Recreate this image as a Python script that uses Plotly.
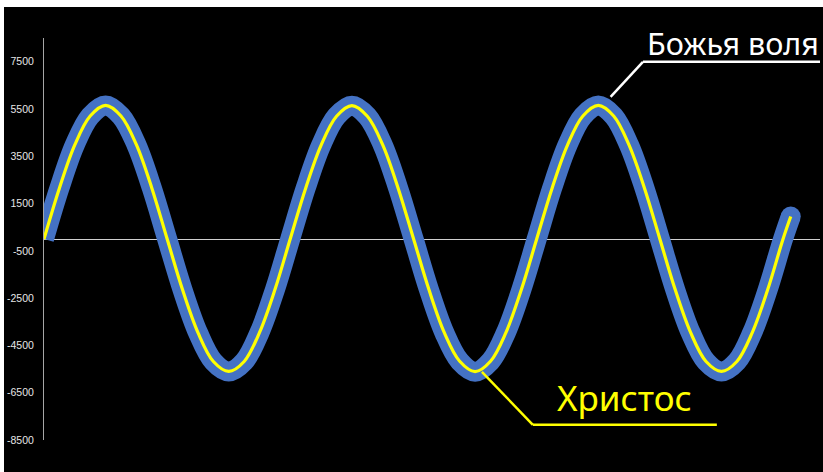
import plotly.graph_objects as go

# Sample positions (1/16 of a wave period per step) and values
x_vals = [0, 1, 2, 3, 4, 5, 6, 7, 8, 9, 10, 11, 12, 13, 14, 15,
          16, 17, 18, 19, 20, 21, 22, 23, 24, 25, 26, 27, 28, 29, 30, 31,
          32, 33, 34, 35, 36, 37, 38, 39, 40, 41, 42, 43, 44, 45, 46, 47,
          48, 48.5]
will_vals = [0, 2150, 3980, 5200, 5650, 5200, 3990, 2160,
             0, -2150, -3960, -5180, -5600, -5180, -3950, -2140,
             20, 2160, 3970, 5190, 5640, 5190, 3980, 2150,
             10, -2140, -3960, -5170, -5610, -5170, -3960, -2150,
             0, 2150, 3970, 5200, 5650, 5200, 3970, 2150,
             0, -2150, -3960, -5180, -5600, -5180, -3960, -2150,
             0, 950]
christ_vals = list(will_vals)

y_ticks = [-8500, -6500, -4500, -2500, -500, 1500, 3500, 5500, 7500]
y_range = [-8500, 8500]
x_range = [0, 50.4]

label_will = "Божья воля"
label_christ = "Христос"

BLUE = "#4472C4"
YELLOW = "#FFFF00"

W, H = 823, 472
ML, MR, MT, MB = 44, 3, 38, 32
pw, ph = W - ML - MR, H - MT - MB


def px_x(px):
    return (px - ML) / pw


def px_y(py):
    return (H - MB - py) / ph


fig = go.Figure()
fig.add_trace(go.Scatter(x=x_vals, y=will_vals, mode="lines",
                         line=dict(color=BLUE, width=20, shape="spline"),
                         hoverinfo="skip", showlegend=False))
fig.add_trace(go.Scatter(x=x_vals[-1:], y=will_vals[-1:], mode="markers",
                         marker=dict(color=BLUE, size=20, line=dict(width=0)),
                         hoverinfo="skip", showlegend=False))
fig.add_trace(go.Scatter(x=x_vals, y=christ_vals, mode="lines",
                         line=dict(color=YELLOW, width=3.2, shape="spline"),
                         hoverinfo="skip", showlegend=False))

shapes = [
    # white leader for "Божья воля"
    dict(type="line", xref="x", yref="y", x0=36.8, y0=6013, x1=38.9, y1=7493,
         line=dict(color="white", width=2.5)),
    dict(type="line", xref="x", yref="y", x0=38.9, y0=7493, x1=50.4, y1=7493,
         line=dict(color="white", width=2.5)),
    # yellow leader for "Христос"
    dict(type="line", xref="x", yref="y", x0=28.44, y0=-5615, x1=31.75, y1=-7856,
         line=dict(color=YELLOW, width=2.5)),
    dict(type="line", xref="x", yref="y", x0=31.75, y0=-7856, x1=43.7, y1=-7856,
         line=dict(color=YELLOW, width=2.5)),
    # white border strips of the screenshot
    dict(type="rect", xref="paper", yref="paper", x0=px_x(-2), x1=px_x(W + 2),
         y0=px_y(-2), y1=px_y(7), fillcolor="white", line=dict(width=0), layer="above"),
    dict(type="rect", xref="paper", yref="paper", x0=px_x(-2), x1=px_x(4),
         y0=px_y(H + 2), y1=px_y(-2), fillcolor="white", line=dict(width=0), layer="above"),
]

annotations = [
    dict(x=44.75, y=8300, xref="x", yref="y", text=label_will, showarrow=False,
         font=dict(family="Noto Sans", size=30.5, color="white"),
         xanchor="center", yanchor="middle"),
    dict(x=37.7, y=-6700, xref="x", yref="y", text=label_christ, showarrow=False,
         font=dict(family="Noto Sans", size=35, color=YELLOW),
         xanchor="center", yanchor="middle"),
]

fig.update_layout(
    width=W, height=H,
    margin=dict(l=ML, r=MR, t=MT, b=MB, pad=0),
    paper_bgcolor="black", plot_bgcolor="black",
    shapes=shapes, annotations=annotations,
    showlegend=False,
    xaxis=dict(range=x_range, showgrid=False, zeroline=False, showline=False,
               showticklabels=False, ticks=""),
    yaxis=dict(range=y_range, tickvals=y_ticks, ticktext=[str(v) for v in y_ticks],
               showgrid=False, zeroline=True, zerolinecolor="#d0d0d0", zerolinewidth=1,
               showline=True, linecolor="#a6a6a6", linewidth=1, ticks="",
               ticklabelstandoff=7,
               tickfont=dict(family="Liberation Sans", size=10.5,
                             color="#e6e6e6")),
)

fig.write_html(
    "out.html",
    config={"displayModeBar": False},
    post_script="document.body.style.margin='0';document.body.style.overflow='hidden';",
)
